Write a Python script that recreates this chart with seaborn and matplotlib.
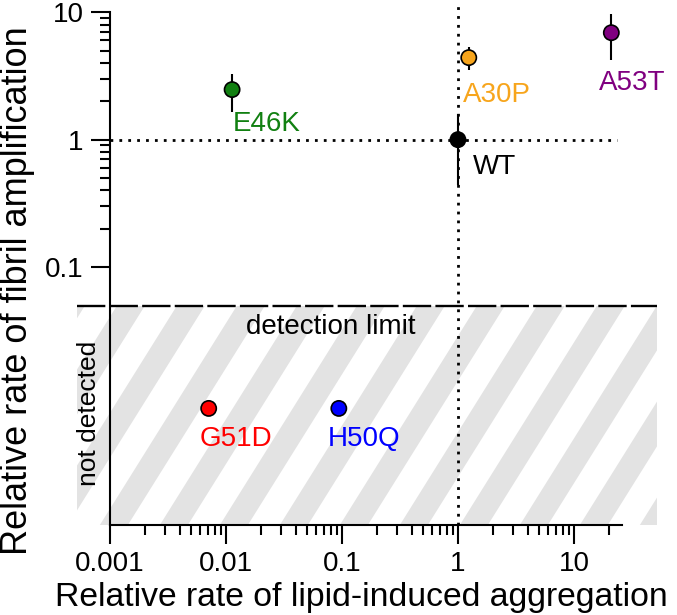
import numpy as np
import pandas as pd
import matplotlib
matplotlib.use("Agg")
import matplotlib.pyplot as plt
import seaborn as sns
from matplotlib.patches import Polygon, Rectangle

# values
variants = ["WT", "A30P", "E46K", "A53T", "G51D", "H50Q"]
lipid_rate = [1.0, 1.24, 0.0113, 21.0, 0.0071, 0.094]
fibril_rate = [1.0, 4.4, 2.47, 6.9, np.nan, np.nan]
fibril_low = [0.44, 3.5, 1.66, 4.2, np.nan, np.nan]
fibril_high = [1.6, 5.3, 3.3, 9.7, np.nan, np.nan]
colors = ["black", "#F7A51C", "#118011", "#800080", "#FF0000", "#0000FF"]

detection_limit = 0.05
not_detected_y = 0.0078   # where undetected variants are drawn

x_major = [0.001, 0.01, 0.1, 1, 10]
x_labels = ["0.001", "0.01", "0.1", "1", "10"]
y_major = [0.1, 1, 10]
y_labels = ["0.1", "1", "10"]

# label offsets in points (dx, dy)
label_offsets = {"WT": (10.8, -20), "A30P": (-4.3, -26.6), "E46K": (0.5, -25),
                 "A53T": (-8.6, -36), "G51D": (-6.5, -22.3), "H50Q": (-8, -22.3)}

sns.set_style("ticks")
plt.rcParams["font.family"] = ["Liberation Sans", "DejaVu Sans"]
plt.rcParams.update({"text.color": "black", "axes.labelcolor": "black",
                     "xtick.color": "black", "ytick.color": "black",
                     "axes.edgecolor": "black"})

df = pd.DataFrame({"variant": variants, "lipid": lipid_rate,
                   "fibril": fibril_rate, "low": fibril_low, "high": fibril_high})
df["plot_y"] = df["fibril"].fillna(not_detected_y)

fig = plt.figure(figsize=(6.77, 6.15), dpi=100)
W_px, H_px = 580, 522
ax = fig.add_axes([77 / 677, 90 / 615, W_px / 677, H_px / 615])
ax.set_xscale("log")
ax.set_yscale("log")
ax.set_xlim(0.00052, 52)
ax.set_ylim(0.00095, 11.8)

# hatched "not detected" band
y_top = ax.transAxes.inverted().transform(ax.transData.transform((1, detection_limit)))[1]
h = y_top * H_px
shift = h / np.tan(np.radians(58))
period, gray = 60, 28
clip = Rectangle((0, 0), 1, y_top, transform=ax.transAxes)
for x0 in np.arange(-shift - 20, W_px + period, period):
    pts = np.array([(x0, 0), (x0 + gray, 0), (x0 + gray + shift, h), (x0 + shift, h)])
    pts[:, 0] /= W_px
    pts[:, 1] /= H_px
    p = Polygon(pts, closed=True, transform=ax.transAxes, facecolor="#e3e3e3",
                linewidth=0, zorder=0)
    ax.add_patch(p)
    p.set_clip_path(clip)

# reference lines
dotted = (0, (1, 2.2))
ax.plot([0.001, 23.5], [1, 1], ls=dotted, lw=2, color="black", zorder=2)
ax.plot([1, 1], [0.00095, 11.8], ls=dotted, lw=2, color="black", zorder=2)
ax.axhline(detection_limit, ls=(0, (12, 1.8)), lw=1.7, color="black", zorder=2)

# error bars + points
det = df.dropna(subset=["fibril"])
ax.vlines(det["lipid"], det["low"], det["high"], color="black", lw=1.5, zorder=3)
sns.scatterplot(data=df, x="lipid", y="plot_y", hue="variant",
                palette=dict(zip(variants, colors)), s=120, edgecolor="black",
                linewidth=1.2, legend=False, zorder=5, ax=ax)

for v, x, y, c in zip(df["variant"], df["lipid"], df["plot_y"], colors):
    ax.annotate(v, (x, y), xytext=label_offsets[v], textcoords="offset points",
                ha="left", va="center", color=c, fontsize=20)

ax.text(0.08, 0.034, "detection limit", ha="center", va="center", fontsize=20)
ax.text(0.00066, 0.00716, "not detected", ha="center", va="center",
        rotation=90, fontsize=19)

# axes styling
sns.despine(ax=ax)
ax.spines["left"].set_position(("data", 0.001))
ax.spines["left"].set_bounds(0.00095, 10)
ax.spines["bottom"].set_bounds(0.001, 26)
for s in ["left", "bottom"]:
    ax.spines[s].set_linewidth(1.5)
    ax.spines[s].set_zorder(6)

x_minor = [m * 10.0 ** e for e in range(-3, 2) for m in range(2, 10) if m * 10.0 ** e <= 20]
y_minor = [m * 10.0 ** e for e in range(-1, 1) for m in range(2, 10)]
ax.set_xticks(x_major)
ax.set_xticklabels(x_labels)
ax.set_xticks(x_minor, minor=True)
ax.set_xticklabels([], minor=True)
ax.set_yticks(y_major)
ax.set_yticklabels(y_labels)
ax.set_yticks(y_minor, minor=True)
ax.set_yticklabels([], minor=True)
ax.tick_params(which="major", direction="out", length=14, width=1.5,
               labelsize=20, pad=5, color="black")
ax.tick_params(which="minor", direction="out", length=7, width=1.5, color="black")
ax.set_xlabel("")
ax.set_ylabel("")

fig.text(361 / 677, (615 - 606) / 615, "Relative rate of lipid-induced aggregation",
         ha="center", va="baseline", fontsize=24.3)
fig.text(18 / 677, (615 - 291) / 615, "Relative rate of fibril amplification",
         ha="center", va="center", rotation=90, fontsize=26)

fig.savefig("out.png", dpi=100)
